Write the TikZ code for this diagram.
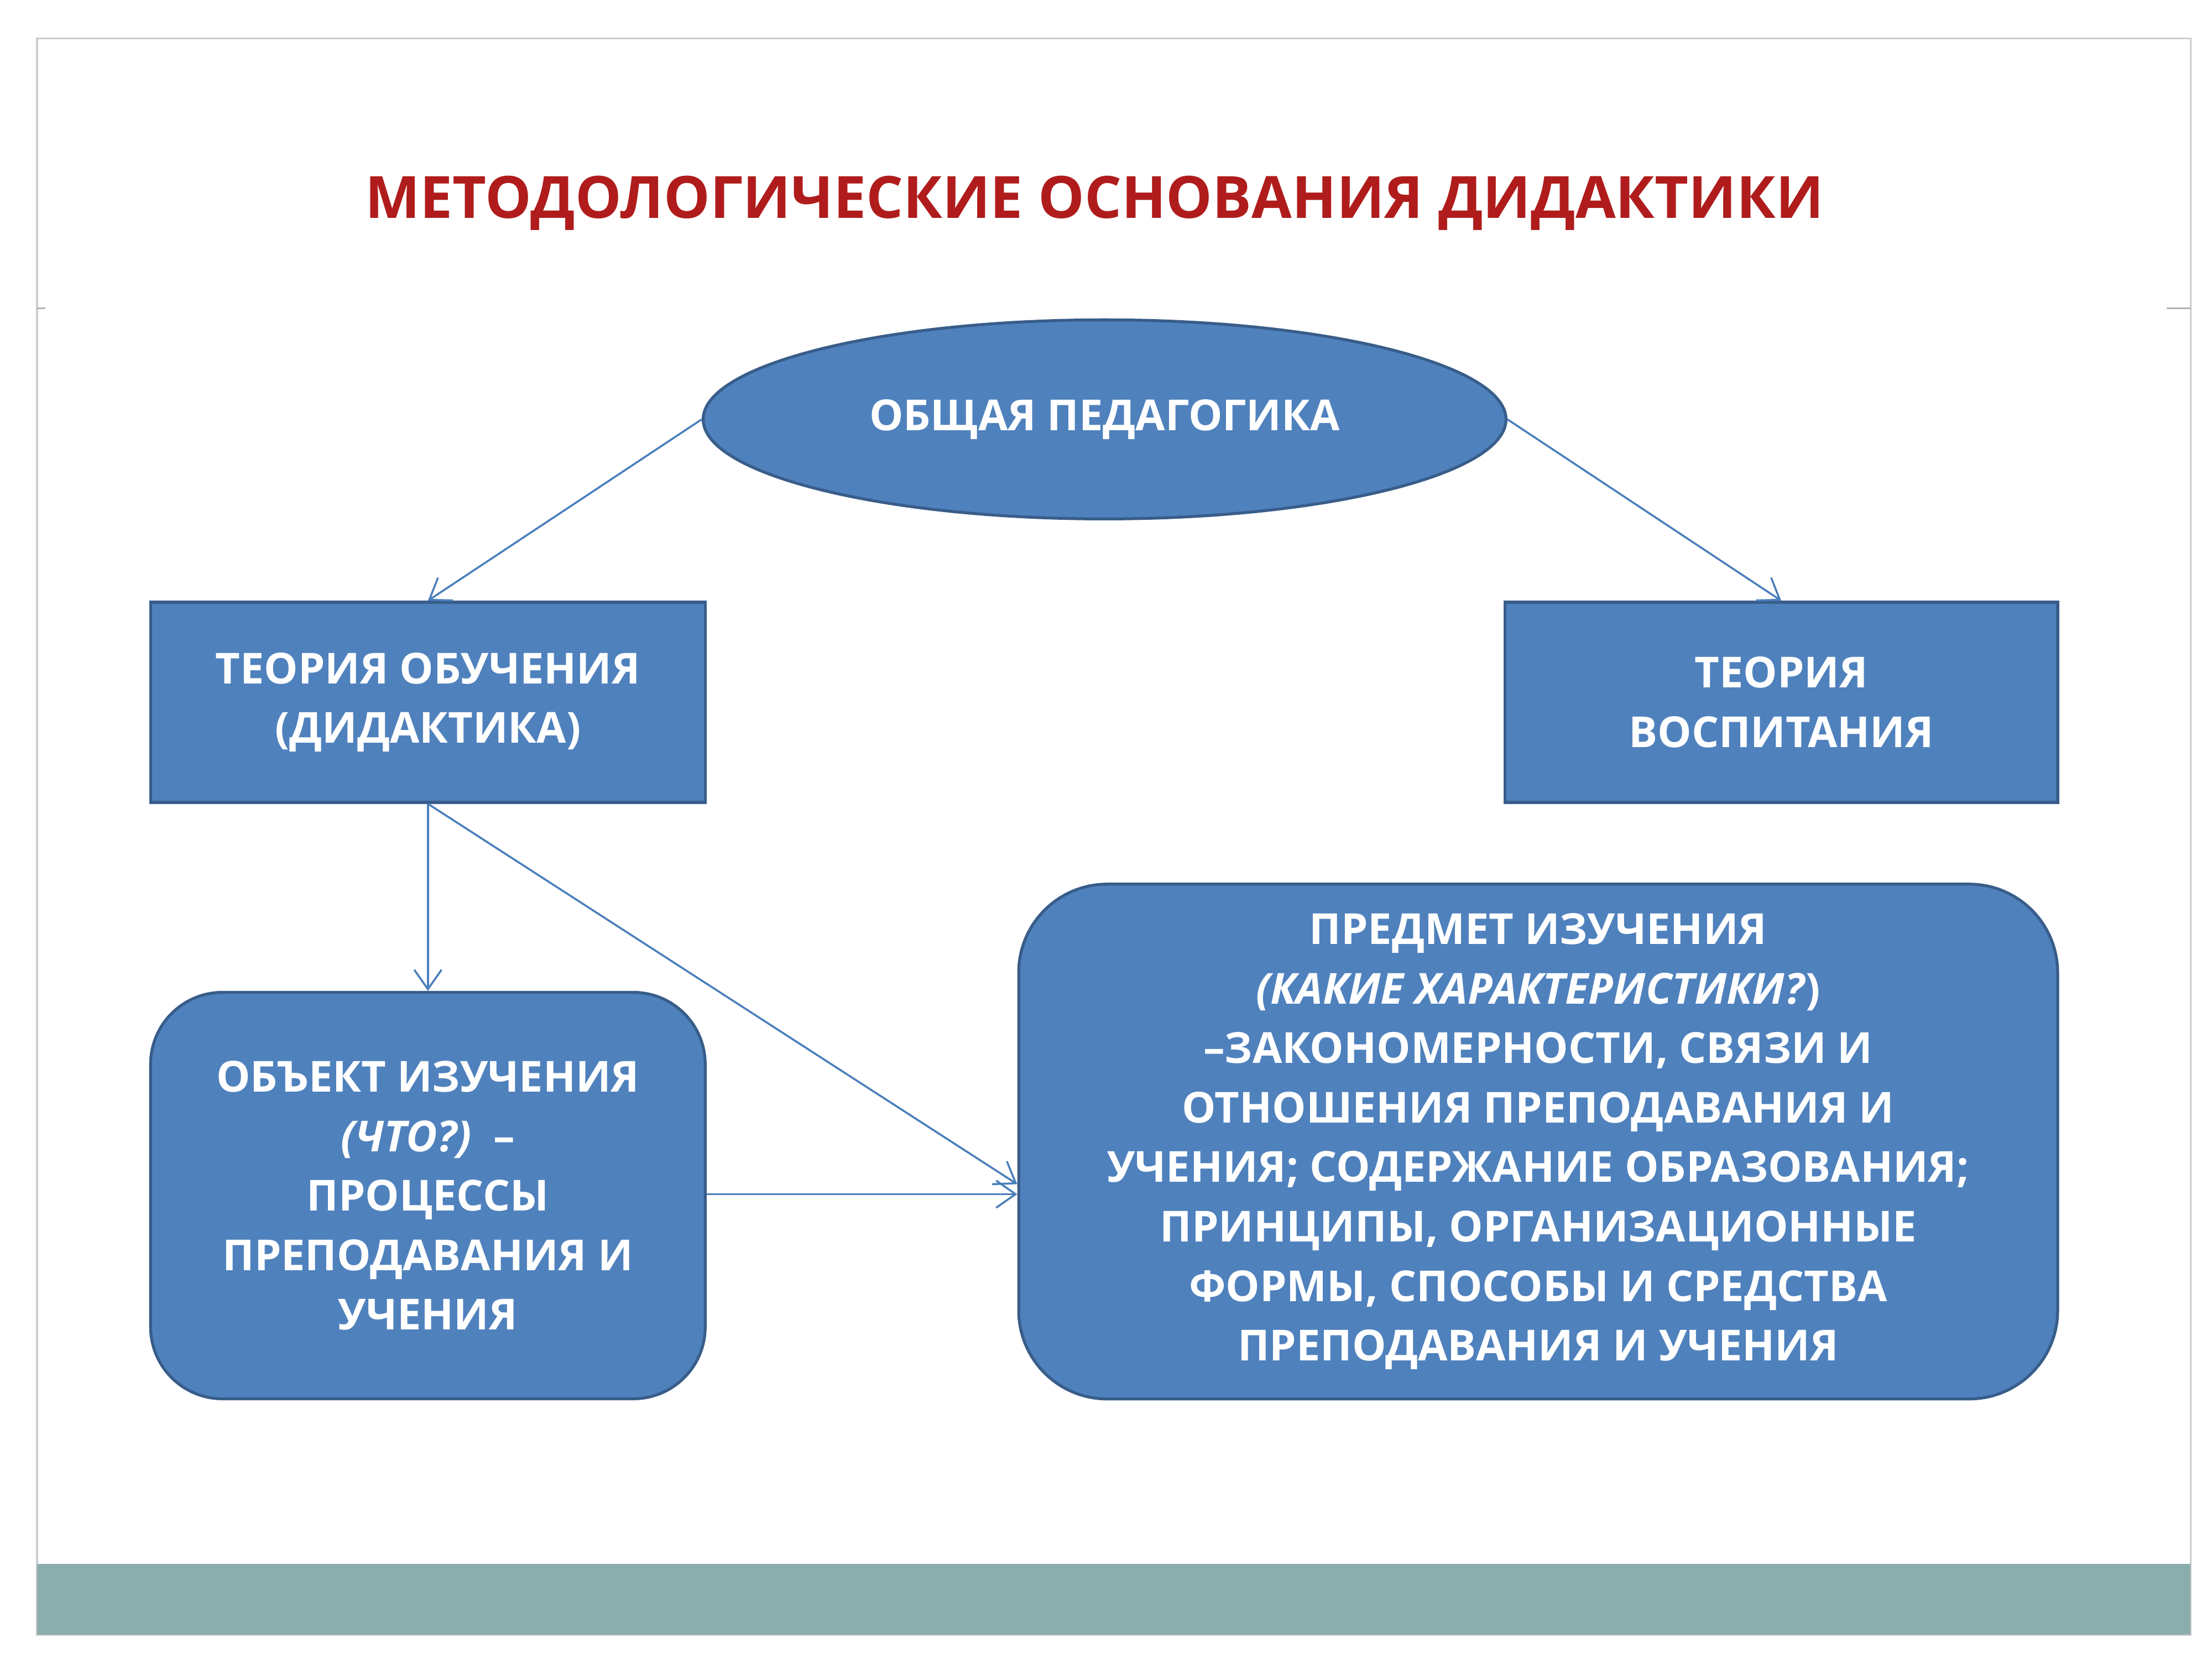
\documentclass[tikz,border=0pt]{standalone}
\usepackage{fontspec}
\setmainfont{Open Sans}
\usetikzlibrary{arrows.meta,shapes.geometric}
\definecolor{boxblue}{HTML}{4F81BD}
\definecolor{boxline}{HTML}{385D8A}
\definecolor{titlered}{HTML}{B01C1C}
\definecolor{band}{HTML}{8CADAD}
\definecolor{arr}{HTML}{4A7EBB}
\tikzset{
  blk/.style={draw=boxline, line width=1.5pt, fill=boxblue, text=white, font=\fontsize{22}{30.6}\selectfont\bfseries, align=center, inner sep=0pt},
  conn/.style={draw=arr, line width=1pt, -{Straight Barb[length=10pt,width=14pt]}}
}
\begin{document}
\begin{tikzpicture}[x=0.025707cm,y=-0.025707cm]
\useasboundingbox (0,0) rectangle (1556,1167);
\fill[white] (0,0) rectangle (1556,1167);
\draw[gray!40, line width=1pt] (26,27) rectangle (1541,1150);
\fill[band] (26,1100) rectangle (1541,1150);
\draw[gray!60, line width=0.8pt] (26,217) -- (32,217) (1524,217) -- (1541,217);
\node (title) at (770,143) [text=titlered, font=\fontsize{30}{36}\selectfont\bfseries] {МЕТОДОЛОГИЧЕСКИЕ ОСНОВАНИЯ ДИДАКТИКИ};
\node (ped) [blk, ellipse, minimum width=14.52cm, minimum height=3.6cm] at (777,295) {ОБЩАЯ ПЕДАГОГИКА};
\node (teo) [blk, minimum width=10.03cm, minimum height=3.62cm] at (301,494) {ТЕОРИЯ ОБУЧЕНИЯ\\(ДИДАКТИКА)};
\node (vos) [blk, minimum width=10.0cm, minimum height=3.62cm] at (1253,494) {ТЕОРИЯ\\ВОСПИТАНИЯ};
\node (obj) [blk, rounded corners=1.3cm, minimum width=10.03cm, minimum height=7.35cm] at (301,841) {ОБЪЕКТ ИЗУЧЕНИЯ\\\textit{(ЧТО?)}~~–\\ПРОЦЕССЫ\\ПРЕПОДАВАНИЯ И\\УЧЕНИЯ};
\node (pred) [blk, rounded corners=1.6cm, minimum width=18.79cm, minimum height=9.31cm] at (1082,803) {ПРЕДМЕТ ИЗУЧЕНИЯ\\\textit{(КАКИЕ ХАРАКТЕРИСТИКИ?})\\–ЗАКОНОМЕРНОСТИ, СВЯЗИ И\\ОТНОШЕНИЯ ПРЕПОДАВАНИЯ И\\УЧЕНИЯ; СОДЕРЖАНИЕ ОБРАЗОВАНИЯ;\\ПРИНЦИПЫ, ОРГАНИЗАЦИОННЫЕ\\ФОРМЫ, СПОСОБЫ И СРЕДСТВА\\ПРЕПОДАВАНИЯ И УЧЕНИЯ};
\draw[conn] (ped.west) -- (teo.north);
\draw[conn] (ped.east) -- (vos.north);
\draw[conn] (teo.south) -- (obj.north);
\draw[conn] (teo.south) -- (pred.west |- 0,833);
\draw[conn] (obj.east |- 0,840) -- (pred.west |- 0,840);
\end{tikzpicture}
\end{document}
